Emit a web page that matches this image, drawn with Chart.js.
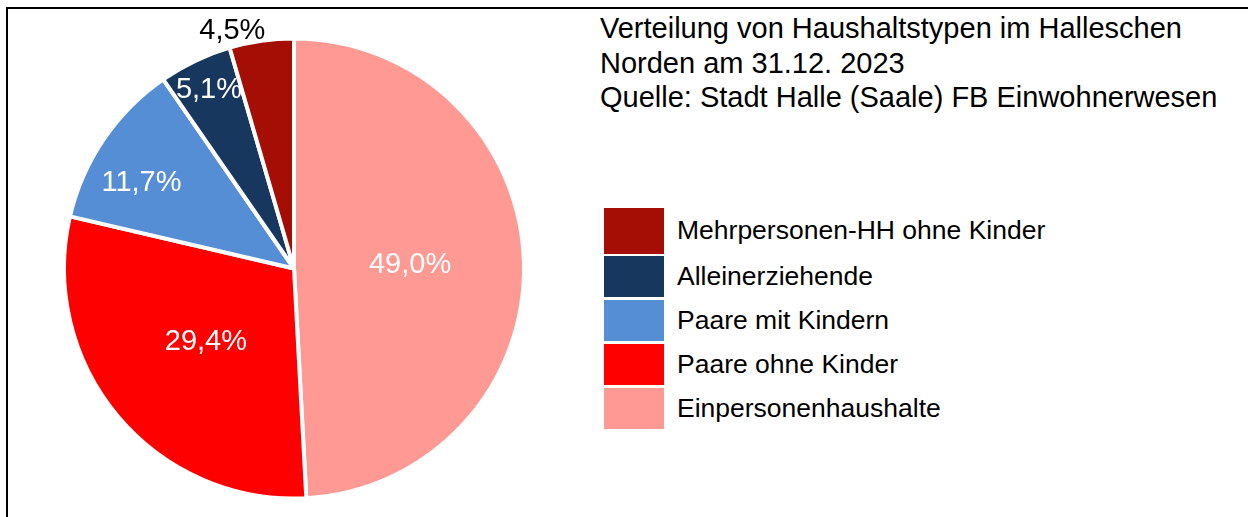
<!DOCTYPE html>
<html lang="de">
<head>
<meta charset="utf-8">
<title>Haushaltstypen Hallescher Norden</title>
<script src="https://cdn.jsdelivr.net/npm/chart.js@4/dist/chart.umd.min.js"></script>
<style>
  html, body { margin: 0; padding: 0; background: #fff; }
  body { width: 1248px; height: 517px; position: relative; overflow: hidden;
         font-family: "Liberation Sans", Arial, sans-serif; color: #000; }
  .frame { position: absolute; left: 6px; top: 7px; right: -10px; bottom: -10px;
           border-top: 2px solid #000; border-left: 2px solid #000; }
  .pie-box { position: absolute; left: 0; top: 0; width: 590px; height: 517px; }
  .title { position: absolute; left: 600px; top: 11px; font-size: 29px; line-height: 34.5px; white-space: nowrap; }
  .legend { position: absolute; left: 604px; top: 207px; }
  .legend .row { height: 44px; display: flex; align-items: center; }
  .legend .box { width: 60px; height: 41px; margin-right: 13px; }
  .legend .row:first-child .box { height: 46px; }
  .legend .row:first-child { height: 47px; }
  .legend .txt { font-size: 26.5px; white-space: nowrap; }
</style>
</head>
<body>
<div class="frame"></div>
<div class="pie-box"><canvas id="haushaltChart"></canvas></div>
<div class="title">Verteilung von Haushaltstypen im Halleschen<br>Norden am 31.12. 2023<br>Quelle: Stadt Halle (Saale) FB Einwohnerwesen</div>
<div class="legend" id="legend"></div>

<script>
// Anteile der Haushaltstypen in Prozent, im Uhrzeigersinn ab 12 Uhr
const haushaltstypen = ['Einpersonenhaushalte', 'Paare ohne Kinder', 'Paare mit Kindern', 'Alleinerziehende', 'Mehrpersonen-HH ohne Kinder'];
const anteile = [49.0, 29.4, 11.7, 5.1, 4.5];
const farben = ['#FF9993', '#FF0000', '#558ED5', '#17375E', '#A40E04'];

// Lage der Beschriftungen: Anteil vom Radius und kleine Verschiebung in px
const labelRadius = [0.505, 0.50, 0.76, 0.86, 1.066];
const labelShift = [[0, 0], [0, 0], [-8, 13], [0, 0], [-27, 5]];
const labelColor = ['#fff', '#fff', '#fff', '#fff', '#000'];

const fmt = v => v.toFixed(1).replace('.', ',') + '%';

const sliceLabels = {
    id: 'sliceLabels',
    afterDatasetsDraw(chart) {
        const ctx = chart.ctx;
        const arcs = chart.getDatasetMeta(0).data;
        ctx.save();
        ctx.font = '29px "Liberation Sans", Arial, sans-serif';
        ctx.textAlign = 'center';
        ctx.textBaseline = 'middle';
        arcs.forEach((arc, i) => {
            const p = arc.getProps(['x', 'y', 'startAngle', 'endAngle', 'outerRadius'], true);
            const mid = (p.startAngle + p.endAngle) / 2;
            const r = p.outerRadius * labelRadius[i];
            const x = p.x + Math.cos(mid) * r + labelShift[i][0];
            const y = p.y + Math.sin(mid) * r + labelShift[i][1];
            ctx.fillStyle = labelColor[i];
            ctx.fillText(fmt(anteile[i]), x, y);
        });
        ctx.restore();
    }
};

const ctx = document.getElementById('haushaltChart').getContext('2d');
const haushaltChart = new Chart(ctx, {
    type: 'pie',
    data: {
        labels: haushaltstypen,
        datasets: [{
            data: anteile,
            backgroundColor: farben,
            borderColor: '#ffffff',
            borderWidth: 4,
            hoverOffset: 0,
            radius: 230
        }]
    },
    options: {
        responsive: true,
        maintainAspectRatio: false,
        animation: false,
        events: [],
        layout: { padding: { top: 20, right: 2 } },
        plugins: {
            legend: { display: false },
            title: { display: false },
            tooltip: { enabled: false }
        }
    },
    plugins: [sliceLabels]
});

// Legende in umgekehrter Reihenfolge (oben der kleinste Anteil)
const legend = document.getElementById('legend');
for (let i = haushaltstypen.length - 1; i >= 0; i--) {
    const row = document.createElement('div');
    row.className = 'row';
    row.innerHTML = '<div class="box" style="background:' + farben[i] + '"></div><div class="txt">' + haushaltstypen[i] + '</div>';
    legend.appendChild(row);
}
</script>
</body>
</html>
